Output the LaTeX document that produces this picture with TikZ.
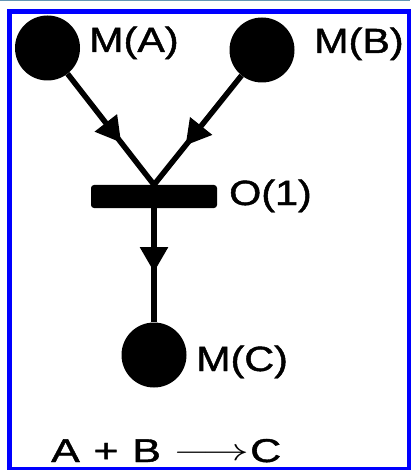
\documentclass[tikz,border=0pt]{standalone}
\usepackage{graphicx}
\usepackage{fontspec}
\setmainfont{Liberation Sans}
\newfontfamily\lblfont[FakeBold=1.2]{Liberation Sans}
\usetikzlibrary{arrows.meta,decorations.markings}
\definecolor{topline}{RGB}{100,150,180}
\begin{document}
\begin{tikzpicture}[x=1pt,y=-1pt,
  place/.style={circle,fill=black,minimum size=65pt,inner sep=0pt},
  trans/.style={rectangle,fill=black,rounded corners=3pt,minimum width=126pt,minimum height=23pt,inner sep=0pt},
  lbl/.style={anchor=base west,inner sep=0pt,font=\lblfont\fontsize{35}{40}\selectfont},
  flow/.style={line width=5.5pt,postaction={decorate},
    decoration={markings,mark=at position #1 with {\arrow{Triangle[length=25pt,width=27pt]}}}},
  frame/.style={draw=blue,line width=5pt}
]
\useasboundingbox (0,0) rectangle (410,470);
\fill[white] (0,0) rectangle (410,470);
\fill[topline] (0,0) rectangle (410,1.5);
\draw[frame] (9.5,11.5) rectangle (409.5,469.5);

\node[place] (A) at (47.5,48) {};
\node[place] (B) at (262,50) {};
\node[place] (C) at (154,355) {};
\node[trans] (T) at (154,196.5) {};

\draw[flow=0.62] (A) -- (T.north);
\draw[flow=0.64] (B) -- (T.north);
\draw[flow=0.56] (T.south) -- (C);

\node[lbl] (la) at (89,52) {\scalebox{1.18}[1]{M(A)}};
\node[lbl] (lb) at (314,53) {\scalebox{1.18}[1]{M(B)}};
\node[lbl] (lt) at (229,205) {\scalebox{1.18}[1]{O(1)}};
\node[lbl] (lc) at (196,371) {\scalebox{1.18}[1]{M(C)}};
\node[anchor=base west,inner sep=0pt,font=\lblfont\fontsize{33}{40}\selectfont] (eq) at (51,462)
  {\scalebox{1.3}[1]{A\hspace{0.32em}+\hspace{0.32em}B\hspace{0.3em}\raisebox{1.5pt}{\scalebox{1.45}[1.25]{$\longrightarrow$}}\hspace{0.02em}C}};
\end{tikzpicture}
\end{document}
